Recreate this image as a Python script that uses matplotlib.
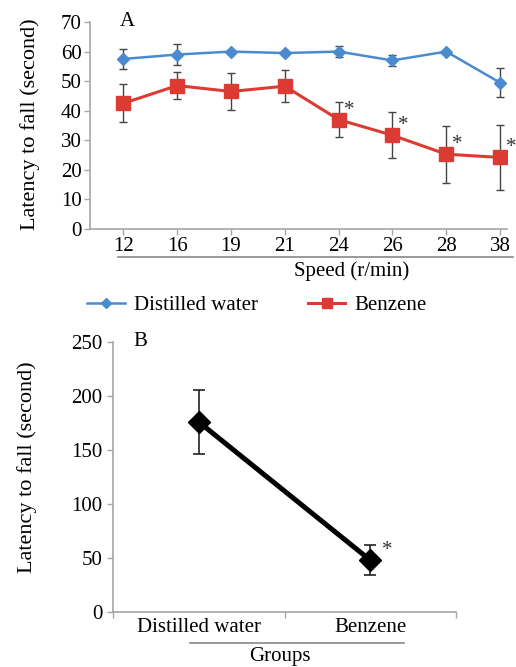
import matplotlib
matplotlib.use("Agg")
import matplotlib.pyplot as plt
from matplotlib.lines import Line2D
import numpy as np

plt.rcParams['font.family'] = ['Liberation Serif', 'DejaVu Serif']

# Panel A data
speeds = ["12", "16", "19", "21", "24", "26", "28", "38"]
water_mean = [57.5, 59.0, 60.0, 59.5, 60.0, 57.0, 60.0, 49.5]
water_err = [3.3, 3.7, 0.5, 0.5, 1.9, 1.8, 0.3, 5.0]
benz_mean = [42.5, 48.5, 46.5, 48.3, 37.0, 31.7, 25.3, 24.2]
benz_err = [6.4, 4.6, 6.3, 5.3, 6.0, 7.7, 9.7, 11.0]
sig_A = [False, False, False, False, True, True, True, True]

# Panel B data
groups = ["Distilled water", "Benzene"]
group_mean = [176, 48]
group_err = [30, 14]
sig_B = [False, True]

W, H = 516, 667
fig = plt.figure(figsize=(W / 100, H / 100), dpi=100)

grey = "#a6a6a6"
blue = "#4a8bd0"
red = "#dc3b33"
FS = 15
FSL = 16

def px(x, y):
    return x / W, 1 - y / H

# ---------- Panel A ----------
axA = fig.add_axes([90 / W, (H - 229) / H, 417 / W, 207 / H])
xA = np.arange(len(speeds))
axA.errorbar(xA, water_mean, yerr=water_err, color=blue, lw=1.8, marker='D',
             markersize=6, ecolor="#444444", elinewidth=1, capsize=3, capthick=1,
             zorder=3)
axA.errorbar(xA, benz_mean, yerr=benz_err, color=red, lw=2.2, marker='s',
             markersize=9.5, ecolor="#444444", elinewidth=1, capsize=3, capthick=1,
             zorder=3)
for i, s in enumerate(sig_A):
    if s:
        axA.annotate("*", (xA[i], benz_mean[i]), xytext=(8, 0),
                     textcoords="offset points", fontsize=15, color="#333333",
                     ha="center", va="bottom")
axA.set_xlim(-0.62, 7.13)
axA.set_ylim(0, 70)
axA.set_yticks(np.arange(0, 71, 10))
axA.set_xticks(xA)
axA.set_xticklabels(speeds)
for sp in ["top", "right"]:
    axA.spines[sp].set_visible(False)
for sp in ["left", "bottom"]:
    axA.spines[sp].set_color(grey)
    axA.spines[sp].set_linewidth(1.2)
axA.tick_params(axis="both", colors=grey, labelcolor="black", labelsize=FS,
                width=1, length=4, direction="out")
axA.tick_params(axis="y", pad=2)
axA.tick_params(axis="x", pad=2)
axA.text(0.09, 1.0, "A", transform=axA.transAxes, fontsize=FS, va="center", ha="center")

fig.add_artist(Line2D([118 / W, 513 / W], [1 - 257 / H] * 2, color="#888888", lw=1.2))
fig.text(*px(352, 271), "Speed (r/min)", fontsize=FS, ha="center", va="center")
fig.text(*px(30, 124), "Latency to fall (second)", fontsize=FSL, ha="center",
         va="center", rotation=90)

handles = [Line2D([], [], color=blue, lw=1.8, marker='D', markersize=5),
           Line2D([], [], color=red, lw=2.2, marker='s', markersize=7)]
labels = ["Distilled water", "Benzene"]
fig.legend(handles, labels, loc="center", bbox_to_anchor=px(257, 305), ncol=2,
           frameon=False, fontsize=FS, handlelength=1.8, columnspacing=2.4,
           handletextpad=0.45)

# ---------- Panel B ----------
axB = fig.add_axes([113 / W, (H - 612) / H, 343 / W, 270 / H])
xB = np.arange(len(groups))
axB.errorbar(xB, group_mean, yerr=group_err, color="black", lw=3.6, marker='D',
             markersize=11, ecolor="#222222", elinewidth=1.2, capsize=4, capthick=1.2,
             zorder=3)
for i, s in enumerate(sig_B):
    if s:
        axB.annotate("*", (xB[i], group_mean[i]), xytext=(12, 0),
                     textcoords="offset points", fontsize=15, color="#333333",
                     ha="center", va="bottom")
axB.set_xlim(-0.5, 1.5)
axB.set_ylim(0, 250)
axB.set_yticks(np.arange(0, 251, 50))
axB.set_xticks([-0.5, 0.5, 1.5])
axB.set_xticklabels([])
axB.set_xticks(xB, minor=True)
axB.set_xticklabels(groups, minor=True)
axB.tick_params(axis="x", which="minor", length=0, labelsize=FS, pad=4)
for sp in ["top", "right"]:
    axB.spines[sp].set_visible(False)
for sp in ["left", "bottom"]:
    axB.spines[sp].set_color(grey)
    axB.spines[sp].set_linewidth(1.2)
axB.tick_params(axis="both", which="major", colors=grey, labelcolor="black",
                labelsize=FS, width=1, length=4, direction="out")
axB.text(0.08, 1.0, "B", transform=axB.transAxes, fontsize=FS, va="center", ha="center")

fig.add_artist(Line2D([190 / W, 404 / W], [1 - 643 / H] * 2, color="#888888", lw=1.2))
fig.text(*px(280, 657), "Groups", fontsize=FS, ha="center", va="center")
fig.text(*px(27, 467), "Latency to fall (second)", fontsize=FSL, ha="center",
         va="center", rotation=90)

fig.savefig("out.png", dpi=100)
